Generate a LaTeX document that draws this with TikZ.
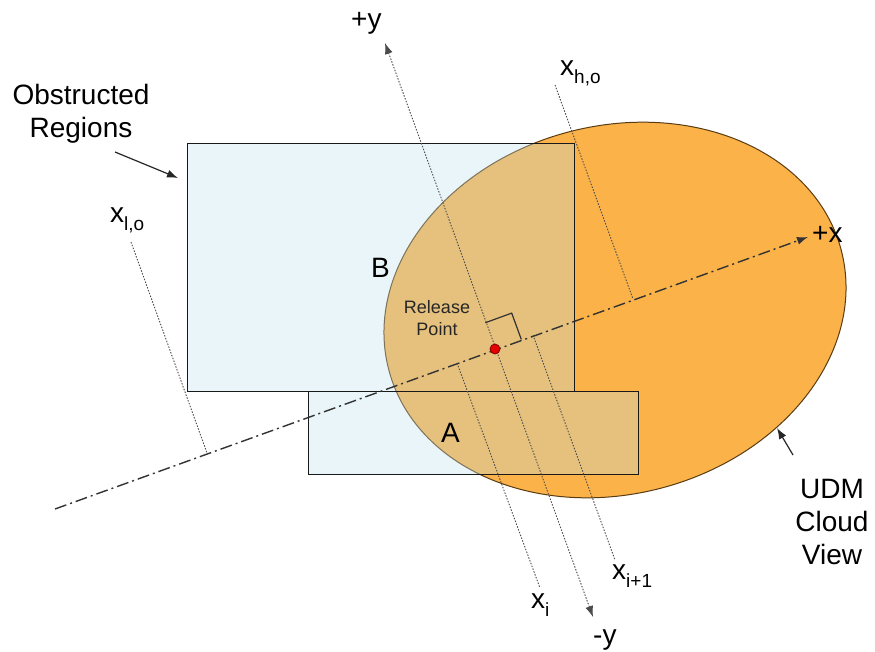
\documentclass[tikz,border=0pt]{standalone}
\usepackage{fontspec}
\setmainfont{Liberation Sans}
\usetikzlibrary{arrows.meta,shapes.geometric}
\definecolor{cloudorange}{RGB}{251,178,72}
\definecolor{cloudedge}{RGB}{90,60,20}
\definecolor{regionblue}{RGB}{190,225,235}
\newcommand\mysub[1]{\raisebox{-8pt}{\fontsize{19}{19}\selectfont #1}}
\begin{document}
\begin{tikzpicture}[x=1pt,y=-1pt,
  lbl/.style={font=\fontsize{28}{33}\selectfont, inner sep=0pt},
  smalllbl/.style={font=\fontsize{18}{22}\selectfont, inner sep=0pt, text=black!85},
  region/.style={fill=regionblue, fill opacity=0.33, draw=black!90, line width=1.2pt, inner sep=0pt, anchor=north west},
  axisline/.style={draw=black!80, line width=1.4pt, dash pattern=on 12pt off 4pt on 2pt off 4pt},
  guide/.style={draw=black!70, line width=0.9pt, dash pattern=on 1.5pt off 1.5pt},
  tipend/.style={-{Latex[length=11pt,width=8pt]}},
  pointer/.style={draw=black!85, line width=1.2pt, -{Latex[length=11pt,width=8pt]}}
]
\useasboundingbox (0,0) rectangle (875,651);
\fill[white] (0,0) rectangle (875,651);

% cloud
\node[ellipse, draw=cloudedge, fill=cloudorange, line width=1pt, inner sep=0pt,
      minimum width=468pt, minimum height=368pt, rotate=15] (cloud) at (615,310) {};

% obstructed regions
\node[region, minimum width=387pt, minimum height=248pt] (regB) at (187,143) {};
\node[region, minimum width=330pt, minimum height=83pt] (regA) at (308,391) {};

% coordinates
\coordinate (R) at (495,349);
\coordinate (xs) at (55,509);
\coordinate (xe) at (808,237);
\coordinate (ytop) at (385,43);
\coordinate (ybot) at (593,617);
\coordinate (lo1) at (131,242);
\coordinate (lo2) at (207,453);
\coordinate (i1) at (457,363);
\coordinate (i2) at (540,588);
\coordinate (ip1) at (533,335);
\coordinate (ip2) at (615,560);
\coordinate (ho1) at (555,85);
\coordinate (ho2) at (633,299);
\coordinate (ra1) at (485.4,322.7);
\coordinate (ra2) at (511.7,313.1);
\coordinate (ra3) at (521.3,339.4);

% axes and guide lines
\draw[axisline, tipend] (xs) -- (xe);
\draw[guide, {Latex[length=11pt,width=8pt]}-{Latex[length=11pt,width=8pt]}] (ybot) -- (ytop);
\draw[guide] (lo1) -- (lo2);
\draw[guide] (i1) -- (i2);
\draw[guide] (ip1) -- (ip2);
\draw[guide] (ho1) -- (ho2);
\draw[draw=black!80, line width=1.2pt] (ra1) -- (ra2) -- (ra3);

% release point
\node[circle, fill=red!90!black, draw=red!50!black, line width=0.8pt, minimum size=10pt, inner sep=0pt] (rp) at (R) {};

% labels
\node[lbl, align=center] (obs) at (81,114) {Obstructed\\Regions};
\coordinate (obsA) at (115,152);
\coordinate (obsB) at (178,178);
\draw[pointer] (obsA) -- (obsB);

\node[lbl, align=center] (udm) at (832,522) {UDM\\Cloud\\View};
\coordinate (udmA) at (793,455);
\coordinate (udmB) at (777,428);
\draw[pointer] (udmA) -- (udmB);

\node[smalllbl, align=center] (rel) at (437,318) {Release\\Point};

\node[lbl, anchor=base west] (lB) at (371,277) {B};
\node[lbl, anchor=base west] (lA) at (441,442) {A};
\node[lbl, anchor=base west] (lpy) at (351,28) {+y};
\node[lbl, anchor=base west] (lmy) at (593,644) {-y};
\node[lbl, anchor=base west] (lpx) at (812,242) {+x};
\node[lbl, anchor=base west] (llo) at (110,222) {x\mysub{l,o}};
\node[lbl, anchor=base west] (lho) at (560,75) {x\mysub{h,o}};
\node[lbl, anchor=base west] (li) at (531,608) {x\mysub{i}};
\node[lbl, anchor=base west] (lip) at (612,579) {x\mysub{i+1}};
\end{tikzpicture}
\end{document}
